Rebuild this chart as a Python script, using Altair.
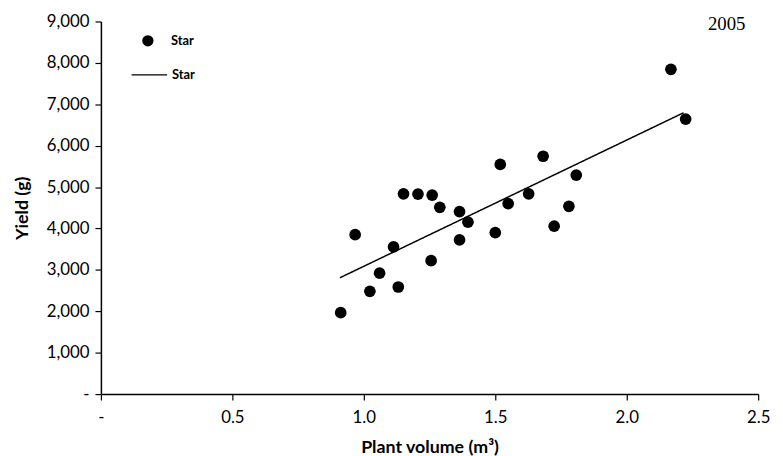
import altair as alt
import pandas as pd

# Plant volume (m3) and yield (g) for "Star", 2005
volume = [0.912, 0.967, 1.023, 1.060, 1.113, 1.131, 1.151, 1.206, 1.260, 1.289,
          1.256, 1.364, 1.396, 1.364, 1.500, 1.519, 1.549, 1.627, 1.682, 1.724,
          1.780, 1.808, 2.168, 2.224]
yield_g = [1967, 3852, 2482, 2921, 3556, 2587, 4838, 4831, 4807, 4511,
           3222, 4408, 4153, 3723, 3900, 5547, 4599, 4838, 5745, 4057,
           4535, 5291, 7845, 6644]

# Fitted trend line endpoints
fit_x = [0.909, 2.216]
fit_y = [2810, 6795]

series_name = ["Star"]
year_label = ["2005"]
year_pos_x = [2.38]
year_pos_y = [8943]

x_ticks = [0, 0.5, 1.0, 1.5, 2.0, 2.5]
y_ticks = [0, 1000, 2000, 3000, 4000, 5000, 6000, 7000, 8000, 9000]

pts = pd.DataFrame({"volume": volume, "yield": yield_g, "series": series_name * len(volume)})
fit = pd.DataFrame({"volume": fit_x, "yield": fit_y, "series": series_name * len(fit_x)})
ann = pd.DataFrame({"volume": year_pos_x, "yield": year_pos_y, "label": year_label})

FONT = "Lato"

x_scale = alt.Scale(domain=[0, 2.5], nice=False, zero=False)
y_scale = alt.Scale(domain=[0, 9000], nice=False)

x_axis = alt.Axis(
    values=x_ticks,
    labelExpr="datum.value == 0 ? '-' : format(datum.value, '.1f')",
    title="Plant volume (m³)",
    grid=False,
    labelFlush=False,
    labelOverlap=False,
    domainColor="#000000",
    domainWidth=1.5,
    tickColor="#000000",
    tickSize=6,
    tickWidth=1.2,
    labelColor="#000000",
    labelFont=FONT,
    labelFontSize=17,
    labelPadding=10,
    titleFont=FONT,
    titleFontSize=18,
    titleFontWeight="bold",
    titleColor="#000000",
    titlePadding=13,
)
y_axis = alt.Axis(
    values=y_ticks,
    labelExpr="datum.value == 0 ? '-' : format(datum.value, ',')",
    title="Yield (g)",
    grid=False,
    labelFlush=False,
    labelOverlap=False,
    domainColor="#000000",
    domainWidth=1.5,
    tickColor="#000000",
    tickSize=6,
    tickWidth=1.2,
    labelColor="#000000",
    labelFont=FONT,
    labelFontSize=17,
    labelPadding=6,
    titleFont=FONT,
    titleFontSize=18,
    titleFontWeight="bold",
    titleColor="#000000",
    titlePadding=15,
)

points = alt.Chart(pts).mark_point(filled=True, opacity=1, color="#000000").encode(
    x=alt.X("volume:Q", scale=x_scale, axis=x_axis),
    y=alt.Y("yield:Q", scale=y_scale, axis=y_axis),
    shape=alt.Shape(
        "series:N",
        scale=alt.Scale(domain=series_name, range=["circle"]),
        legend=alt.Legend(
            title=None,
            orient="none",
            legendX=41,
            legendY=13,
            symbolSize=130,
            symbolFillColor="#000000",
            symbolStrokeColor="#000000",
            labelFont=FONT,
            labelFontSize=13,
            labelFontWeight="bold",
            labelColor="#000000",
            labelOffset=17,
        ),
    ),
    size=alt.value(140),
)

line = alt.Chart(fit).mark_line(color="#000000", strokeWidth=1.5).encode(
    x=alt.X("volume:Q", scale=x_scale),
    y=alt.Y("yield:Q", scale=y_scale),
    strokeDash=alt.StrokeDash(
        "series:N",
        scale=alt.Scale(domain=series_name, range=[[1, 0]]),
        legend=alt.Legend(
            title=None,
            orient="none",
            legendX=30,
            legendY=35,
            symbolType="stroke",
            symbolSize=1296,
            symbolStrokeColor="#000000",
            symbolStrokeWidth=1.2,
            labelFont=FONT,
            labelFontSize=13,
            labelFontWeight="bold",
            labelColor="#000000",
            labelOffset=4,
        ),
    ),
)

year = alt.Chart(ann).mark_text(
    font="Liberation Serif", fontSize=19, color="#000000", align="center", baseline="middle"
).encode(
    x=alt.X("volume:Q", scale=x_scale),
    y=alt.Y("yield:Q", scale=y_scale),
    text="label:N",
)

chart = (
    alt.layer(points, line, year)
    .resolve_legend(shape="independent", strokeDash="independent")
    .properties(
        width=665,
        height=377,
        background="#ffffff",
        padding={"left": 5, "top": 2, "right": 5, "bottom": 0},
    )
    .configure_view(strokeWidth=0)
)

chart.save("out.html", embed_options={"renderer": "svg", "actions": False})
